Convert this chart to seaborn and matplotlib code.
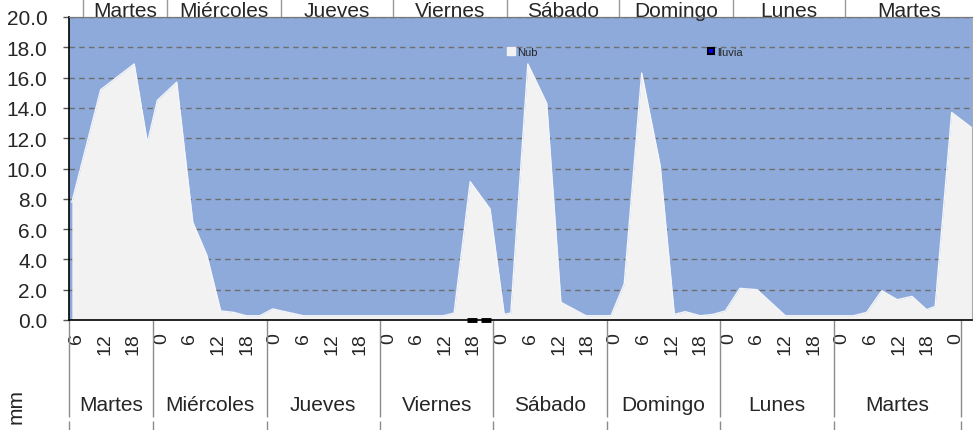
import numpy as np
import seaborn as sns
import matplotlib.pyplot as plt
from matplotlib.lines import Line2D
from matplotlib.ticker import FormatStrFormatter

# hours counted from Martes 00:00
nub_h = [6.8, 12.9, 20.0, 22.8, 24.9, 29.0, 32.4, 35.4, 38.3, 41.1, 43.7, 46.6,
         49.3, 55.8, 85.4, 87.7, 91.1, 95.3, 98.3, 99.7, 103.3, 107.3, 110.3,
         115.6, 120.9, 123.7, 127.4, 131.3, 134.3, 136.6, 139.8, 142.5, 145.1,
         148.2, 151.8, 157.8, 172.2, 175.0, 178.2, 181.5, 184.6, 187.7, 189.5,
         193.0, 197.2]
nub_v = [7.77, 15.2, 16.9, 11.7, 14.5, 15.7, 6.45, 4.25, 0.6, 0.5, 0.28, 0.28,
         0.73, 0.28, 0.28, 0.46, 9.13, 7.33, 0.37, 0.46, 16.9, 14.3, 1.17,
         0.28, 0.28, 2.38, 16.3, 10.2, 0.37, 0.55, 0.28, 0.37, 0.6,
         2.09, 2.0, 0.28, 0.28, 0.5, 1.93, 1.34, 1.56, 0.68, 0.9,
         13.7, 12.7]
rain_h = [91.5, 94.5]
rain_v = [0.0, 0.0]

day_names = ['Martes', 'Miércoles', 'Jueves', 'Viernes', 'Sábado', 'Domingo', 'Lunes', 'Martes']
day_edges = [6.2, 24, 48, 72, 96, 120, 144, 168, 195]
top_edges = [9.2, 27.0, 51.1, 74.8, 98.9, 122.6, 146.8, 170.4, 197.6]
hour_labels = ['6', '12', '18'] + ['0', '6', '12', '18'] * 7 + ['0']

sns.set_style('ticks')
plt.rcParams['font.family'] = ['Liberation Sans', 'DejaVu Sans']

fig = plt.figure(figsize=(9.73, 4.31), dpi=100)
ax = fig.add_axes([69 / 973, 1 - 321 / 431, (972 - 69) / 973, (321 - 18) / 431])
ax.set_facecolor('#8EAADB')

ax.fill_between(nub_h, nub_v, 0, color='#F2F2F2', lw=0, zorder=2)
sns.lineplot(x=nub_h, y=nub_v, ax=ax, color='#F4F6FA', lw=1, estimator=None, sort=False, zorder=3)
ax.plot(rain_h, rain_v, ls='none', marker='_', ms=7, mew=3.5, color='black', clip_on=False, zorder=5)

ax.set_xlim(6.2, 197.3)
ax.set_ylim(0, 20)
ax.set_yticks(np.arange(0, 20.1, 2))
ax.yaxis.set_major_formatter(FormatStrFormatter('%.1f'))
ax.tick_params(axis='y', length=4.5, width=1, color='#555555', labelsize=15, pad=11)
ax.yaxis.grid(True, ls=(0, (4, 3)), color='#6E6E6E', lw=1)
ax.set_axisbelow(True)
ax.set_xlabel('')
ax.set_ylabel('')

# hour labels (bottom, first level)
hour_pos = np.arange(6, 193, 6) + 1.8
ax.set_xticks(hour_pos)
ax.set_xticklabels(hour_labels, rotation=90, va='top')
ax.tick_params(axis='x', which='major', length=0, labelsize=14, pad=8.5)
ax.set_xticks(day_edges, minor=True)
ax.tick_params(axis='x', which='minor', length=70, width=1, color='#8C8C8C')

for s in ['left', 'bottom']:
    ax.spines[s].set_color('black')
    ax.spines[s].set_linewidth(1.2)
ax.spines['top'].set_color('#777777')
ax.spines['right'].set_color('#AAAAAA')

# day labels (bottom, second level)
for i, name in enumerate(day_names):
    c = (day_edges[i] + day_edges[i + 1]) / 2
    ax.text(c, -0.279, name, transform=ax.get_xaxis_transform(), ha='center', va='center', fontsize=15)

sec2 = ax.secondary_xaxis(-0.3333)
sec2.set_xticks([])
sec2.set_xticks(day_edges, minor=True)
sec2.tick_params(which='minor', length=10, width=1, color='#8C8C8C')
for s in sec2.spines.values():
    s.set_visible(False)

# top day axis
top_centers = [(top_edges[i] + top_edges[i + 1]) / 2 for i in range(len(day_names))]
sec = ax.secondary_xaxis('top')
sec.set_xticks(top_centers)
sec.set_xticklabels(day_names)
sec.tick_params(which='major', length=0, labelsize=15, pad=-2.2)
sec.set_xticks(top_edges, minor=True)
sec.tick_params(which='minor', length=13, width=1, color='#999999')
sec.spines['top'].set_color('#777777')

fig.text(16 / 973, 1 - 407 / 431, 'mm', rotation=90, ha='center', va='center', fontsize=15)

handles = [Line2D([], [], ls='none', marker='s', ms=5.4, mfc='#F2F2F2', mec='#F2F2F2'),
           Line2D([], [], ls='none', marker='s', ms=4.6, mfc='#0000FF', mec='black', mew=1.5)]
ax.legend(handles, ['Nub', 'lluvia'], ncol=2, frameon=False, fontsize=8,
          handlelength=0.7, handletextpad=0.15, columnspacing=15.3,
          borderpad=0, borderaxespad=0, loc='center left', bbox_to_anchor=(0.4856, 0.8855))

fig.savefig('out.png', dpi=100)
